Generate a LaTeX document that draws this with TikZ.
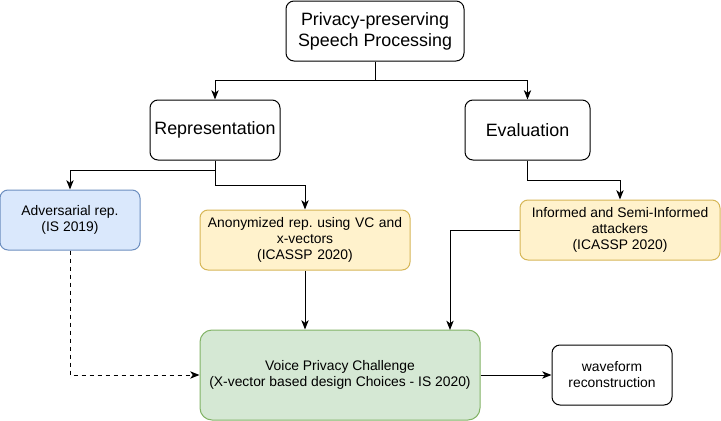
\documentclass[tikz,border=0pt]{standalone}
\usepackage{fontspec}
\setmainfont{Liberation Sans}
\frenchspacing
\usetikzlibrary{arrows.meta}
\definecolor{bluefill}{HTML}{DAE8FC}
\definecolor{bluedraw}{HTML}{6C8EBF}
\definecolor{yelfill}{HTML}{FFF2CC}
\definecolor{yeldraw}{HTML}{D6B656}
\definecolor{grnfill}{HTML}{D5E8D4}
\definecolor{grndraw}{HTML}{82B366}
\begin{document}
\begin{tikzpicture}[x=0.75pt,y=-0.75pt,
  box/.style={draw=black,fill=white,rounded corners=6pt,line width=0.75pt,inner sep=0pt,align=center},
  big/.style={font=\fontsize{13.4pt}{15.8pt}\selectfont\frenchspacing},
  small/.style={font=\fontsize{10.4pt}{12pt}\selectfont\frenchspacing},
  arr/.style={line width=0.75pt,-{Stealth[length=7pt,width=5.5pt,inset=2pt]}},
  con/.style={line width=0.75pt}]
\useasboundingbox (0,0) rectangle (721,421);
\node[box,big,minimum width=133.5pt,minimum height=45pt] (top) at (375,31) {Privacy-preserving\\Speech Processing};
\node[box,big,minimum width=97.5pt,minimum height=45pt] (rep) at (215,130) {Representation};
\node[box,big,minimum width=93.75pt,minimum height=45pt] (eval) at (527.5,130) {Evaluation};
\node[box,small,fill=bluefill,draw=bluedraw,minimum width=105pt,minimum height=45pt] (adv) at (70,220) {Adversarial rep.\\(IS 2019)};
\node[box,small,fill=yelfill,draw=yeldraw,minimum width=157.5pt,minimum height=45pt,text width=155pt] (anon) at (305,240) {Anonymized rep. using VC and\\x-vectors\\(ICASSP 2020)};
\node[box,small,fill=yelfill,draw=yeldraw,minimum width=150pt,minimum height=45pt] (inf) at (620,230) {Informed and Semi-Informed\\attackers\\(ICASSP 2020)};
\node[box,small,fill=grnfill,draw=grndraw,rounded corners=9pt,minimum width=210pt,minimum height=67.5pt] (voice) at (340,375) {Voice Privacy Challenge\\(X-vector based design Choices - IS 2020)};
\node[box,small,minimum width=90pt,minimum height=45pt] (wave) at (612,375) {waveform\\reconstruction};
\coordinate (vin) at (450,330);
\draw[arr] (top.south) -- ++(0,19) -| (rep.north);
\draw[arr] (top.south) -- ++(0,19) -| (eval.north);
\draw[arr] (rep.south) -- ++(0,10) -| (adv.north);
\draw[arr] (rep.south) -- ++(0,25) -| (anon.north);
\draw[arr] (eval.south) -- ++(0,20) -| (inf.north);
\draw[arr] (inf.west) -| (vin);
\draw[arr] (anon.south) -- (anon.south |- voice.north);
\draw[arr,dashed] (adv.south) |- (voice.west);
\draw[arr] (voice.east) -- (wave.west);
\end{tikzpicture}
\end{document}
